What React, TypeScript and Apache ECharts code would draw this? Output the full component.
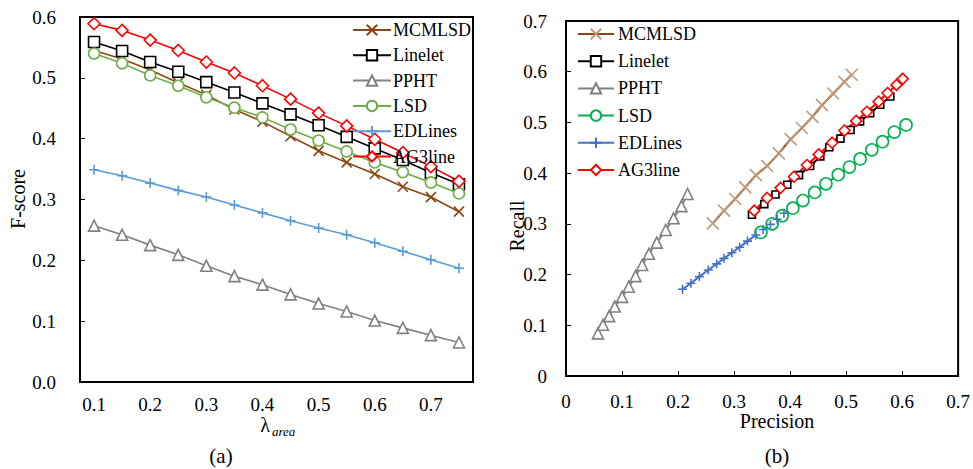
import React, { useEffect, useRef } from "react";
import * as echarts from "echarts";

// ---------- data ----------
const lambdaCats = ["0.1", "0.15", "0.2", "0.25", "0.3", "0.35", "0.4", "0.45", "0.5", "0.55", "0.6", "0.65", "0.7", "0.75"];

const fMCMLSD = [0.545, 0.531, 0.513, 0.492, 0.472, 0.448, 0.428, 0.404, 0.380, 0.361, 0.342, 0.321, 0.304, 0.280];
const fLinelet = [0.559, 0.544, 0.526, 0.510, 0.493, 0.476, 0.458, 0.440, 0.422, 0.403, 0.384, 0.365, 0.344, 0.325];
const fPPHT = [0.257, 0.242, 0.225, 0.209, 0.191, 0.174, 0.160, 0.144, 0.129, 0.116, 0.101, 0.089, 0.077, 0.065];
const fLSD = [0.540, 0.524, 0.504, 0.487, 0.468, 0.451, 0.435, 0.415, 0.397, 0.379, 0.361, 0.345, 0.328, 0.310];
const fEDLines = [0.349, 0.339, 0.327, 0.315, 0.304, 0.291, 0.278, 0.265, 0.253, 0.242, 0.229, 0.215, 0.201, 0.187];
const fAG3line = [0.589, 0.578, 0.562, 0.545, 0.526, 0.508, 0.487, 0.465, 0.442, 0.421, 0.399, 0.377, 0.354, 0.330];

// precision-recall pairs [precision, recall]
const prMCMLSD = [
  [0.262, 0.301], [0.282, 0.326], [0.302, 0.349], [0.320, 0.372], [0.339, 0.396], [0.359, 0.414], [0.380, 0.439],
  [0.401, 0.467], [0.421, 0.489], [0.440, 0.511], [0.457, 0.534], [0.477, 0.557], [0.497, 0.580], [0.510, 0.594],
];
const prLinelet = [
  [0.332, 0.318], [0.354, 0.339], [0.374, 0.358], [0.395, 0.377], [0.416, 0.396], [0.436, 0.414], [0.454, 0.433],
  [0.470, 0.451], [0.490, 0.468], [0.508, 0.485], [0.525, 0.502], [0.543, 0.518], [0.561, 0.535], [0.579, 0.551],
];
const prPPHT = [
  [0.057, 0.084], [0.066, 0.101], [0.077, 0.118], [0.087, 0.137], [0.100, 0.156], [0.112, 0.176], [0.124, 0.197],
  [0.136, 0.219], [0.148, 0.241], [0.162, 0.263], [0.178, 0.288], [0.192, 0.311], [0.206, 0.335], [0.217, 0.359],
];
const prLSD = [
  [0.348, 0.283], [0.368, 0.300], [0.386, 0.316], [0.405, 0.331], [0.423, 0.346], [0.444, 0.362], [0.464, 0.379],
  [0.486, 0.397], [0.506, 0.412], [0.525, 0.428], [0.546, 0.446], [0.565, 0.462], [0.586, 0.481], [0.607, 0.495],
];
const prEDLines = [
  [0.208, 0.171], [0.223, 0.183], [0.238, 0.196], [0.254, 0.209], [0.269, 0.221], [0.282, 0.232], [0.296, 0.243],
  [0.310, 0.254], [0.324, 0.266], [0.339, 0.278], [0.352, 0.289], [0.365, 0.299], [0.377, 0.309], [0.389, 0.321],
];
const prAG3line = [
  [0.336, 0.326], [0.359, 0.351], [0.383, 0.371], [0.407, 0.393], [0.430, 0.416], [0.451, 0.437], [0.475, 0.460],
  [0.497, 0.484], [0.518, 0.503], [0.537, 0.521], [0.558, 0.541], [0.574, 0.558], [0.590, 0.574], [0.601, 0.586],
];

const methodNames = ["MCMLSD", "Linelet", "PPHT", "LSD", "EDLines", "AG3line"];

// ---------- styles ----------
const FONT = "Liberation Serif";
const CROSS = "path://M0,0L10,10M10,0L0,10";
const PLUS = "path://M5,0L5,10M0,5L10,5";

function lineSeries(
  name: string,
  data: any[],
  axisIndex: number,
  lineColor: string,
  markerColor: string,
  symbol: string,
  size: number,
  hollow: boolean,
  lineWidth: number
) {
  return {
    type: "line",
    name,
    data,
    xAxisIndex: axisIndex,
    yAxisIndex: axisIndex,
    symbol,
    symbolSize: size,
    showAllSymbol: true,
    lineStyle: { color: lineColor, width: lineWidth },
    itemStyle: {
      color: hollow ? "#ffffff" : markerColor,
      borderColor: markerColor,
      borderWidth: 1.6,
    },
    emphasis: { disabled: true },
  };
}

export default function App() {
  const ref = useRef<HTMLDivElement>(null);

  useEffect(() => {
    if (!ref.current) return;
    const chart = echarts.init(ref.current, null, { renderer: "svg" });

    const axisText = { fontFamily: FONT, fontSize: 19, color: "#000" };

    const option: any = {
      animation: false,
      backgroundColor: "#fff",
      textStyle: { fontFamily: FONT },
      grid: [
        { left: 80, top: 17, width: 393, height: 365, show: true, borderColor: "#000", borderWidth: 2, containLabel: false },
        { left: 566, top: 21, width: 394, height: 355, show: true, borderColor: "#000", borderWidth: 2, containLabel: false },
      ],
      xAxis: [
        {
          type: "category",
          gridIndex: 0,
          data: lambdaCats,
          boundaryGap: true,
          axisLine: { lineStyle: { color: "#000", width: 2 } },
          axisTick: { inside: true, interval: 1, length: 5, lineStyle: { color: "#000", width: 1 } },
          axisLabel: { ...axisText, interval: 1, margin: 13 },
          splitLine: { show: false },
        },
        {
          type: "value",
          gridIndex: 1,
          min: 0,
          max: 0.7,
          interval: 0.1,
          axisLine: { lineStyle: { color: "#000", width: 2 } },
          axisTick: { inside: true, length: 5, lineStyle: { color: "#000", width: 1 } },
          axisLabel: { ...axisText, margin: 16 },
          splitLine: { show: false },
        },
      ],
      yAxis: [
        {
          type: "value",
          gridIndex: 0,
          min: 0,
          max: 0.6,
          interval: 0.1,
          axisLine: { show: true, lineStyle: { color: "#000", width: 2 } },
          axisTick: { show: true, inside: true, length: 5, lineStyle: { color: "#000", width: 1 } },
          axisLabel: { ...axisText, margin: 24, formatter: (v: number) => v.toFixed(1) },
          splitLine: { show: false },
        },
        {
          type: "value",
          gridIndex: 1,
          min: 0,
          max: 0.7,
          interval: 0.1,
          axisLine: { show: true, lineStyle: { color: "#000", width: 2 } },
          axisTick: { show: true, inside: true, length: 5, lineStyle: { color: "#000", width: 1 } },
          axisLabel: { ...axisText, margin: 19 },
          splitLine: { show: false },
        },
      ],
      legend: [
        {
          orient: "vertical",
          left: 352,
          top: 21,
          padding: 0,
          itemWidth: 38,
          itemHeight: 13,
          itemGap: 7.3,
          selectedMode: false,
          data: methodNames,
          textStyle: { fontFamily: FONT, fontSize: 18, color: "#000", lineHeight: 13, padding: [0, 0, 0, -3] },
        },
        {
          orient: "vertical",
          left: 577,
          top: 25,
          padding: 0,
          itemWidth: 36,
          itemHeight: 13,
          itemGap: 9.2,
          selectedMode: false,
          data: methodNames.map((n) => n + "#b"),
          formatter: (n: string) => n.split("#")[0],
          textStyle: { fontFamily: FONT, fontSize: 18, color: "#000", lineHeight: 13, padding: [0, 0, 0, -1] },
        },
      ],
      series: [
        lineSeries("MCMLSD", fMCMLSD, 0, "#8B4513", "#8B4513", CROSS, 10, false, 1.6),
        lineSeries("Linelet", fLinelet, 0, "#000000", "#000000", "rect", 11, true, 1.6),
        lineSeries("PPHT", fPPHT, 0, "#808080", "#808080", "triangle", 11, true, 1.6),
        lineSeries("LSD", fLSD, 0, "#70AD47", "#70AD47", "circle", 11, true, 1.6),
        lineSeries("EDLines", fEDLines, 0, "#5B9BD5", "#5B9BD5", PLUS, 10, false, 1.6),
        lineSeries("AG3line", fAG3line, 0, "#FF0000", "#FF0000", "diamond", 12, true, 1.6),

        lineSeries("MCMLSD#b", prMCMLSD, 1, "#8B4513", "#C09A7C", CROSS, 12, false, 2),
        lineSeries("Linelet#b", prLinelet, 1, "#000000", "#000000", "rect", 7, true, 2),
        lineSeries("PPHT#b", prPPHT, 1, "#808080", "#808080", "triangle", 11, true, 2),
        lineSeries("LSD#b", prLSD, 1, "#00B050", "#00B050", "circle", 12, true, 2),
        lineSeries("EDLines#b", prEDLines, 1, "#4472C4", "#4472C4", PLUS, 9, false, 2),
        lineSeries("AG3line#b", prAG3line, 1, "#FF0000", "#FF0000", "diamond", 11, true, 2),
      ],
      graphic: [
        {
          type: "text",
          x: 18,
          y: 199,
          rotation: Math.PI / 2,
          style: { text: "F-score", fontFamily: FONT, fontSize: 20, fill: "#000", align: "center", verticalAlign: "middle" },
        },
        {
          type: "text",
          x: 265,
          y: 425,
          style: { text: "λ", fontFamily: FONT, fontSize: 20, lineHeight: 16, fill: "#000", align: "center", verticalAlign: "middle" },
        },
        {
          type: "text",
          x: 272,
          y: 431,
          style: { text: "area", fontFamily: FONT, fontSize: 13, fontStyle: "italic", fill: "#000", align: "left", verticalAlign: "middle" },
        },
        {
          type: "text",
          x: 221,
          y: 456,
          style: { text: "(a)", fontFamily: FONT, fontSize: 21, fill: "#000", align: "center", verticalAlign: "middle" },
        },
        {
          type: "text",
          x: 517,
          y: 226,
          rotation: Math.PI / 2,
          style: { text: "Recall", fontFamily: FONT, fontSize: 20, fill: "#000", align: "center", verticalAlign: "middle" },
        },
        {
          type: "text",
          x: 777,
          y: 421,
          style: { text: "Precision", fontFamily: FONT, fontSize: 20, fill: "#000", align: "center", verticalAlign: "middle" },
        },
        {
          type: "text",
          x: 777,
          y: 456,
          style: { text: "(b)", fontFamily: FONT, fontSize: 21, fill: "#000", align: "center", verticalAlign: "middle" },
        },
      ],
    };

    chart.setOption(option);
    return () => chart.dispose();
  }, []);

  return (
    <div
      ref={ref}
      style={{ position: "absolute", left: 0, top: 0, width: 973, height: 469, background: "#fff" }}
    />
  );
}
